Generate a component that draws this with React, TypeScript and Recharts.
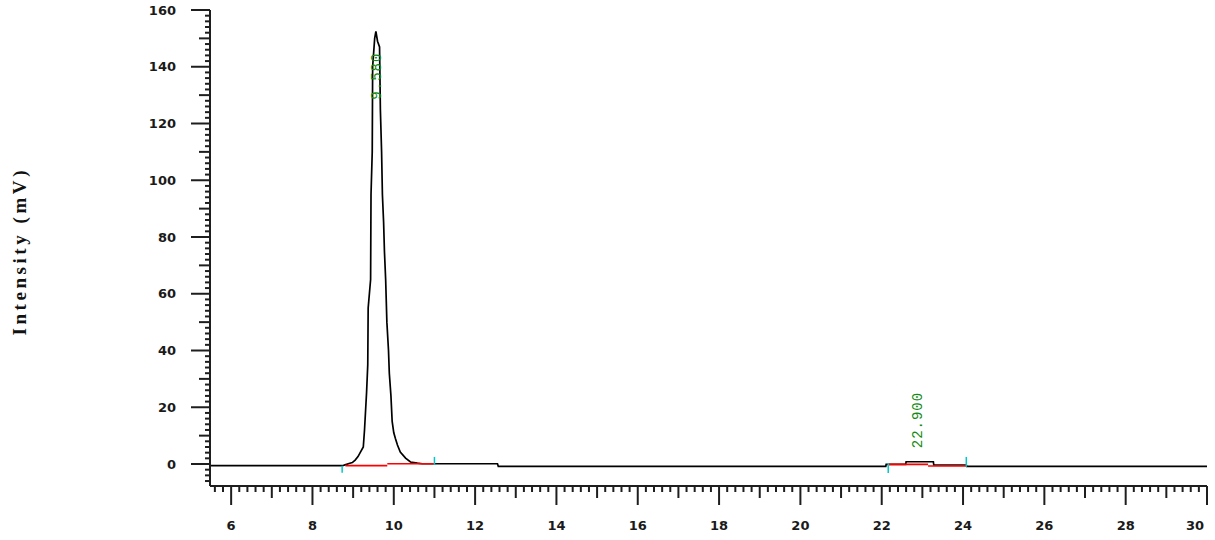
import React from "react";
import {
  LineChart,
  Line,
  XAxis,
  YAxis,
  ReferenceLine,
  ReferenceDot,
} from "recharts";

// chromatogram trace, retention time (min) vs intensity (mV)
const trace = [
  { t: 5.48, v: -0.6 },
  { t: 8.74, v: -0.6 },
  { t: 8.8, v: -0.3 },
  { t: 8.9, v: 0.2 },
  { t: 8.98, v: 0.5 },
  { t: 9.05, v: 1.4 },
  { t: 9.12, v: 2.6 },
  { t: 9.18, v: 4.2 },
  { t: 9.25, v: 6.0 },
  { t: 9.28, v: 12 },
  { t: 9.33, v: 25 },
  { t: 9.36, v: 35 },
  { t: 9.37, v: 55 },
  { t: 9.43, v: 65 },
  { t: 9.44, v: 95 },
  { t: 9.47, v: 110 },
  { t: 9.48, v: 140 },
  { t: 9.53, v: 150 },
  { t: 9.56, v: 152.5 },
  { t: 9.6, v: 149 },
  { t: 9.65, v: 147 },
  { t: 9.67, v: 125 },
  { t: 9.7, v: 110 },
  { t: 9.72, v: 95 },
  { t: 9.75, v: 85 },
  { t: 9.77, v: 75 },
  { t: 9.8, v: 65 },
  { t: 9.83, v: 50 },
  { t: 9.87, v: 40 },
  { t: 9.89, v: 32 },
  { t: 9.93, v: 24 },
  { t: 9.96, v: 15 },
  { t: 10.0, v: 11 },
  { t: 10.04, v: 9 },
  { t: 10.09, v: 6.7 },
  { t: 10.16, v: 4.2 },
  { t: 10.29, v: 2.1 },
  { t: 10.41, v: 0.7 },
  { t: 10.58, v: 0.3 },
  { t: 10.7, v: 0.1 },
  { t: 12.55, v: 0.1 },
  { t: 12.57, v: -0.8 },
  { t: 22.1, v: -0.8 },
  { t: 22.11, v: -0.1 },
  { t: 22.59, v: -0.1 },
  { t: 22.6, v: 0.8 },
  { t: 23.27, v: 0.8 },
  { t: 23.28, v: -0.35 },
  { t: 24.08, v: -0.35 },
  { t: 24.09, v: -0.8 },
  { t: 30, v: -0.8 },
];

// integration baselines (red)
const baselines = [
  { t1: 8.81, v1: -0.6, t2: 9.84, v2: -0.6 },
  { t1: 9.84, v1: 0.1, t2: 11.0, v2: 0.1 },
  { t1: 22.16, v1: -0.1, t2: 23.14, v2: -0.1 },
  { t1: 23.14, v1: -0.7, t2: 24.08, v2: -0.7 },
];

// peak start / end markers (cyan)
const markers = [
  { t: 8.73, from: -0.6, to: -3.1 },
  { t: 11.0, from: -0.35, to: 2.5 },
  { t: 22.16, from: 0.35, to: -3.2 },
  { t: 24.08, from: -1.0, to: 2.5 },
];

const peaks = [
  { rt: 9.58, label: "9.580", labelV: 136.7 },
  { rt: 22.9, label: "22.900", labelV: 15.5 },
];

const yLabels = [0, 20, 40, 60, 80, 100, 120, 140, 160];
const xLabels = [6, 8, 10, 12, 14, 16, 18, 20, 22, 24, 26, 28, 30];

const yTicks: number[] = [];
for (let v = -6; v <= 160; v += 2) yTicks.push(v);
const xTicks: number[] = [];
for (let i = 28; i <= 150; i++) xTicks.push(Math.round(i * 2) / 10);

const AXIS = "#1e1e1e";
const TICK_FONT = { fontFamily: "DejaVu Sans", fontSize: 13, fontWeight: 700, fill: "#1a1a1a" };

function YTick(props: any) {
  const { x, y, payload } = props;
  const v = payload.value;
  const major = yLabels.includes(v);
  const mid = v % 10 === 0;
  const len = major ? 19 : mid ? 11 : 5;
  return (
    <g>
      <line x1={x - len} x2={x} y1={y} y2={y} stroke={AXIS} strokeWidth={2} />
      {major && (
        <text x={x - 34} y={y} textAnchor="end" dominantBaseline="central" {...TICK_FONT}>
          {v}
        </text>
      )}
    </g>
  );
}

function XTick(props: any) {
  const { x, y, payload } = props;
  const v = payload.value;
  const isInt = Math.abs(v - Math.round(v)) < 1e-6;
  const major = isInt && xLabels.includes(Math.round(v));
  const len = major ? 19 : isInt ? 12 : 6;
  const last = major && Math.round(v) === 30;
  return (
    <g>
      <line x1={x} x2={x} y1={y} y2={y + len} stroke={AXIS} strokeWidth={2} />
      {major && (
        <text
          x={last ? x - 3 : x}
          y={y + 39}
          textAnchor={last ? "end" : "middle"}
          dominantBaseline="central"
          {...TICK_FONT}
        >
          {Math.round(v)}
        </text>
      )}
    </g>
  );
}

function PeakLabel(text: string) {
  return (p: any) => (
    <text
      x={p.cx}
      y={p.cy}
      transform={`rotate(-90 ${p.cx} ${p.cy})`}
      textAnchor="middle"
      dominantBaseline="central"
      fontFamily="Liberation Mono"
      fontSize={14}
      letterSpacing={1}
      fill="#128a12"
    >
      {text}
    </text>
  );
}

export default function App() {
  return (
    <div style={{ position: "absolute", left: 0, top: 0, background: "#fff" }}>
      <LineChart
        width={1215}
        height={540}
        data={trace}
        margin={{ top: 10, right: 8, bottom: 0, left: 0 }}
      >
        <XAxis
          dataKey="t"
          type="number"
          domain={[5.48, 30]}
          ticks={xTicks}
          interval={0}
          tickSize={0}
          tickMargin={0}
          tickLine={false}
          tick={<XTick />}
          height={54}
          axisLine={{ stroke: AXIS, strokeWidth: 2 }}
          allowDataOverflow
        />
        <YAxis
          type="number"
          domain={[-7.75, 160]}
          ticks={yTicks}
          interval={0}
          tickSize={0}
          tickMargin={0}
          tickLine={false}
          tick={<YTick />}
          width={210}
          axisLine={{ stroke: AXIS, strokeWidth: 2 }}
          allowDataOverflow
          label={{
            content: () => (
              <text
                x={19}
                y={253}
                transform="rotate(-90 19 253)"
                textAnchor="middle"
                dominantBaseline="central"
                fontFamily="Liberation Serif"
                fontWeight={700}
                fontSize={19}
                textLength={165}
                lengthAdjust="spacing"
                fill="#111"
              >
                Intensity (mV)
              </text>
            ),
          }}
        />
        <Line
          type="linear"
          dataKey="v"
          stroke="#000"
          strokeWidth={1.7}
          dot={false}
          isAnimationActive={false}
        />
        {baselines.map((b, i) => (
          <ReferenceLine
            key={"b" + i}
            segment={[
              { x: b.t1, y: b.v1 },
              { x: b.t2, y: b.v2 },
            ]}
            stroke="#ff0000"
            strokeWidth={1.7}
          />
        ))}
        {markers.map((m, i) => (
          <ReferenceLine
            key={"m" + i}
            segment={[
              { x: m.t, y: m.from },
              { x: m.t, y: m.to },
            ]}
            stroke="#00c8c8"
            strokeWidth={1.5}
          />
        ))}
        {peaks.map((p) => (
          <ReferenceDot
            key={p.label}
            x={p.rt}
            y={p.labelV}
            r={0}
            shape={PeakLabel(p.label)}
          />
        ))}
      </LineChart>
    </div>
  );
}
